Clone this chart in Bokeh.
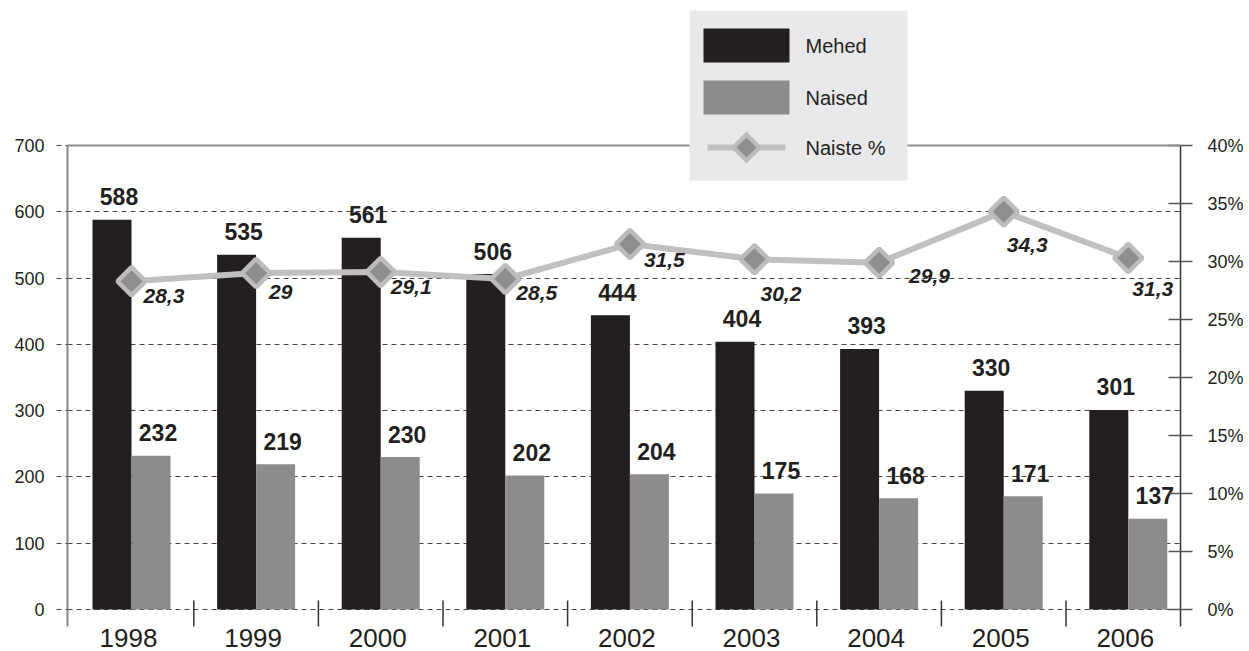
import math
from bokeh.plotting import figure
from bokeh.models import (ColumnDataSource, Range1d, LinearAxis, FixedTicker, Span,
                          BoxAnnotation, PolyAnnotation, Label)
from bokeh.core.properties import value
from bokeh.transform import dodge
from bokeh.embed import file_html
from bokeh.resources import INLINE

# ---------------- data ----------------
years = ["1998", "1999", "2000", "2001", "2002", "2003", "2004", "2005", "2006"]
mehed = [588, 535, 561, 506, 444, 404, 393, 330, 301]
naised = [232, 219, 230, 202, 204, 175, 168, 171, 137]
naiste_pct = [28.3, 29.0, 29.1, 28.5, 31.5, 30.2, 29.9, 34.3, 30.3]
pct_labels = ["28,3", "29", "29,1", "28,5", "31,5", "30,2", "29,9", "34,3", "31,3"]
left_ticks = [0, 100, 200, 300, 400, 500, 600, 700]
grid_ticks = [0, 100, 200, 300, 400, 500, 600]
right_ticks = [0, 5, 10, 15, 20, 25, 30, 35, 40]
legend_labels = ["Mehed", "Naised", "Naiste %"]

# ---------------- style: label offsets in pixels ----------------
pct_dx = [12, 13, 10, 11, 14, 6, 30, 3, 4]
pct_dy = [12, 16, 12, 11, 13, 32, 10, 30, 28]

# ---------------- geometry (pixels) ----------------
W, H = 1249, 651
FRAME_L, FRAME_R = 67, 1180
FRAME_T, FRAME_B = 0, 651
CAT_PX = 124.6
CAT0_PX = 131
Y0_PX, Y700_PX = 609, 145
ppu = (Y0_PX - Y700_PX) / 700.0
ppp = (Y0_PX - Y700_PX) / 40.0

x_start = (FRAME_L - CAT0_PX) / CAT_PX
x_end = (FRAME_R - CAT0_PX) / CAT_PX
y_start = -(FRAME_B - Y0_PX) / ppu
y_end = (Y0_PX - FRAME_T) / ppu
p_start = -(FRAME_B - Y0_PX) / ppp
p_end = (Y0_PX - FRAME_T) / ppp
axis_bottom_px = 626

INK = "#231f20"
MALE = "#231f20"
FEMALE = "#8c8c8f"
LINE_C = "#c0c0c3"
DIAM_IN = "#8e8e91"
DIAM_OUT = "#bcbcbf"
TXT_FONT = "Liberation Sans"

x = list(range(len(years)))
src = ColumnDataSource(dict(
    x=x, year=years, mehed=mehed, naised=naised,
    mehed_lbl=[str(v) for v in mehed], naised_lbl=[str(v) for v in naised],
    pct=naiste_pct, pct_lbl=pct_labels,
    dx=pct_dx, dy=[d - 4 for d in pct_dy],
))

p = figure(width=W, height=H, output_backend="svg", toolbar_location=None,
           x_range=Range1d(x_start, x_end), y_range=Range1d(y_start, y_end),
           min_border_left=FRAME_L, min_border_right=W - FRAME_R,
           min_border_top=FRAME_T, min_border_bottom=H - FRAME_B,
           frame_width=FRAME_R - FRAME_L, frame_height=FRAME_B - FRAME_T,
           x_axis_location=None, y_axis_location=None)
p.outline_line_color = None
p.background_fill_color = "white"
p.border_fill_color = "white"
p.xgrid.visible = False
p.ygrid.ticker = FixedTicker(ticks=grid_ticks)
p.ygrid.grid_line_color = "#444444"
p.ygrid.grid_line_dash = "5 4"
p.ygrid.grid_line_width = 1

p.extra_y_ranges = {"pct": Range1d(p_start, p_end)}

# left axis
yl = LinearAxis(ticker=FixedTicker(ticks=left_ticks),
                bounds=(-(axis_bottom_px - Y0_PX) / ppu, 700))
yl.axis_line_color = "#888888"
yl.axis_line_width = 2
yl.major_tick_in = 0
yl.major_tick_out = 11
yl.major_tick_line_dash = "5 4"
yl.major_tick_line_color = "#444444"
yl.minor_tick_line_color = None
yl.major_label_standoff = 12
yl.major_label_text_font = TXT_FONT
yl.major_label_text_font_size = "18px"
yl.major_label_text_color = INK
p.add_layout(yl, "left")

# right axis
yr = LinearAxis(y_range_name="pct", ticker=FixedTicker(ticks=right_ticks),
                bounds=(-(axis_bottom_px - Y0_PX) / ppp, 40))
yr.axis_line_color = "#333333"
yr.axis_line_width = 1.5
yr.major_tick_in = 12
yr.major_tick_out = 12
yr.major_tick_line_color = "#555555"
yr.major_tick_line_width = 1.5
yr.minor_tick_line_color = None
yr.major_label_standoff = 15
yr.major_label_overrides = {t: f"{t}%" for t in right_ticks}
yr.major_label_text_font = TXT_FONT
yr.major_label_text_font_size = "18px"
yr.major_label_text_color = INK
p.add_layout(yr, "right")

# top border line at 700
p.add_layout(Span(location=700, dimension="width", line_color="#8a8a8a", line_width=2))

# category separators
sep_x = [i + 0.5 for i in range(len(years) - 1)]
p.segment(x0=sep_x, x1=sep_x, y0=[(Y0_PX - 600) / ppu] * len(sep_x),
          y1=[-(axis_bottom_px - Y0_PX) / ppu] * len(sep_x),
          line_color="#333333", line_width=1.5)

# bars
BW = 0.313
p.vbar(x=dodge("x", -BW / 2, range=p.x_range), top="mehed", bottom=0, width=BW,
       source=src, fill_color=MALE, line_color=None)
p.vbar(x=dodge("x", BW / 2, range=p.x_range), top="naised", bottom=0, width=BW,
       source=src, fill_color=FEMALE, line_color=None)

p.text(x=dodge("x", -BW / 2, range=p.x_range), y="mehed", text="mehed_lbl", source=src,
       x_offset=7, y_offset=-23, text_align="center", text_baseline="alphabetic",
       text_font=value(TXT_FONT), text_font_style="bold", text_font_size="23px",
       text_color=INK)
p.text(x=dodge("x", BW / 2, range=p.x_range), y="naised", text="naised_lbl", source=src,
       x_offset=7, y_offset=-23, text_align="center", text_baseline="alphabetic",
       text_font=value(TXT_FONT), text_font_style="bold", text_font_size="23px",
       text_color=INK)

# line + diamonds
p.line(x="x", y="pct", source=src, y_range_name="pct", line_color=LINE_C, line_width=6)
p.scatter(x="x", y="pct", source=src, y_range_name="pct", marker="square",
          angle=math.pi / 4, size=20, fill_color=DIAM_IN, line_color=DIAM_OUT,
          line_width=4.5)
p.text(x="x", y="pct", text="pct_lbl", source=src, y_range_name="pct",
       x_offset="dx", y_offset="dy", text_align="left", text_baseline="top",
       text_font=value(TXT_FONT), text_font_style="bold italic",
       text_font_size="21px", text_color=INK)

# year labels
p.text(x="x", y=0, text="year", source=src, x_offset=-3, y_offset=19, text_align="center",
       text_baseline="top", text_font=value(TXT_FONT), text_font_size="26px",
       text_color=INK)

# ---------------- legend (drawn in screen units) ----------------
def sx(px):
    return px - FRAME_L

def sy(py):
    return FRAME_B - py

def box(l, t, r, b, color):
    p.add_layout(BoxAnnotation(left=sx(l), right=sx(r), top=sy(t), bottom=sy(b),
                               left_units="screen", right_units="screen",
                               top_units="screen", bottom_units="screen",
                               fill_color=color, fill_alpha=1, line_color=None,
                               level="overlay"))

box(689, 10, 907, 180, "#e9e9eb")
box(703, 28, 789, 62, MALE)
box(703, 80, 789, 114, FEMALE)
box(707, 144, 785, 150, LINE_C)
cx, cy = 746, 147
for half, col in ((16, DIAM_OUT), (10, DIAM_IN)):
    p.add_layout(PolyAnnotation(xs=[sx(cx), sx(cx + half), sx(cx), sx(cx - half)],
                                ys=[sy(cy - half), sy(cy), sy(cy + half), sy(cy)],
                                xs_units="screen", ys_units="screen",
                                fill_color=col, fill_alpha=1, line_color=None,
                                level="overlay"))
for lbl, cyy in zip(legend_labels, (45, 97, 147)):
    p.add_layout(Label(x=sx(805), y=sy(cyy), x_units="screen", y_units="screen",
                       text=lbl, text_align="left", text_baseline="middle",
                       text_font=TXT_FONT, text_font_size="20px", text_color=INK,
                       level="overlay"))

open("out.html", "w").write(file_html(p, INLINE))
